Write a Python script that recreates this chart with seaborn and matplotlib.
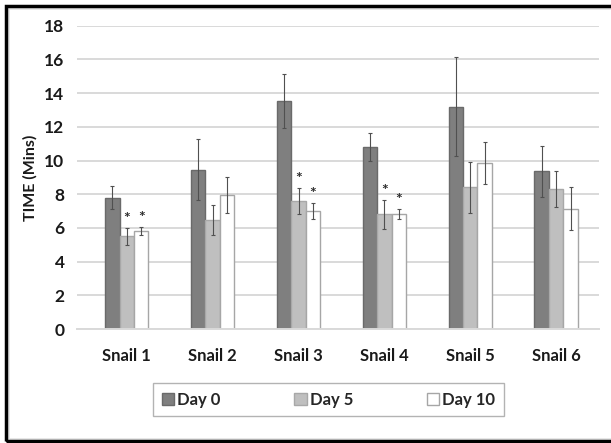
import numpy as np
import pandas as pd
import matplotlib
matplotlib.use("Agg")
import matplotlib.pyplot as plt
import seaborn as sns
from matplotlib.patches import Rectangle
from matplotlib.container import BarContainer

snails = ["Snail 1", "Snail 2", "Snail 3", "Snail 4", "Snail 5", "Snail 6"]
days = ["Day 0", "Day 5", "Day 10"]
day0 = [7.8, 9.45, 13.55, 10.8, 13.2, 9.35]
day5 = [5.5, 6.45, 7.6, 6.8, 8.4, 8.3]
day10 = [5.8, 7.95, 7.0, 6.8, 9.85, 7.15]
err0 = [0.7, 1.8, 1.6, 0.85, 2.95, 1.5]
err5 = [0.5, 0.9, 0.75, 0.85, 1.5, 1.05]
err10 = [0.25, 1.05, 0.5, 0.3, 1.25, 1.25]
sig5 = [True, False, True, True, False, False]
sig10 = [True, False, True, True, False, False]

sns.set_theme(style="white")
plt.rcParams['font.family'] = ['Lato', 'DejaVu Sans']

rows = []
for d, vals in zip(days, [day0, day5, day10]):
    for s, v in zip(snails, vals):
        rows.append({"Snail": s, "Day": d, "Time": v})
df = pd.DataFrame(rows)

W, H = 611, 443
fig = plt.figure(figsize=(W / 100, H / 100), dpi=100)
ax = fig.add_axes([77 / W, 1 - 329 / H, (599 - 77) / W, (329 - 25.7) / H])

fills = ["#7f7f7f", "#bfbfbf", "#ffffff"]
edges = ["#6a6a6a", "#a8a8a8", "#a6a6a6"]
sns.barplot(data=df, x="Snail", y="Time", hue="Day", order=snails, hue_order=days,
            palette=fills, width=0.505, gap=0, errorbar=None, saturation=1,
            linewidth=1.0, ax=ax, legend=True)

errs = [err0, err5, err10]
sigs = [None, sig5, sig10]
bar_conts = [c for c in ax.containers if isinstance(c, BarContainer)]
for i, cont in enumerate(bar_conts):
    for j, bar in enumerate(cont.patches):
        bar.set_edgecolor(edges[i])
        cx = bar.get_x() + bar.get_width() / 2
        h = bar.get_height()
        ax.errorbar(cx, h, yerr=errs[i][j], fmt="none", ecolor="#505050",
                    elinewidth=0.8, capsize=1.2, capthick=0.8, zorder=5)
        if sigs[i] is not None and sigs[i][j]:
            ax.text(cx, h + errs[i][j] + 0.12, "*", ha="center", va="bottom",
                    fontsize=11.5, fontweight="bold", color="#2a2a2a")

ax.set_ylim(0, 18)
ax.set_xlim(-0.58, 5.5)
ax.set_yticks(np.arange(0, 19, 2))
ax.yaxis.grid(True, color="#d9d9d9", linewidth=1.4)
ax.set_axisbelow(True)
for s in ["top", "right", "left"]:
    ax.spines[s].set_visible(False)
ax.spines["bottom"].set_color("#d9d9d9")
ax.spines["bottom"].set_linewidth(1.4)
ax.tick_params(axis="both", length=0)
ax.tick_params(axis="y", pad=9, labelsize=12.5)
ax.tick_params(axis="x", pad=14, labelsize=12)
for lab in ax.get_xticklabels() + ax.get_yticklabels():
    lab.set_fontweight("bold")
    lab.set_color("#1a1a1a")
ax.set_xlabel("")
ax.set_ylabel("TIME (Mins)", fontsize=11.5, fontweight="bold", color="#1a1a1a", labelpad=5)

leg = ax.legend(loc="center", bbox_to_anchor=(328.5 / W, 1 - 399.5 / H),
                bbox_transform=fig.transFigure, ncol=3, frameon=True,
                fancybox=False, edgecolor="#a0a0a0", handlelength=0.75,
                handleheight=0.75, handletextpad=0.2, columnspacing=4.4,
                borderpad=0.5, borderaxespad=0, prop={"size": 12, "weight": "bold"})
leg.get_frame().set_linewidth(1.0)
for i, hnd in enumerate(leg.legend_handles):
    hnd.set_edgecolor(edges[i])

# outer frame
fig.patches.append(Rectangle((9 / W, 4 / H), 1, 1 - 13 / H, transform=fig.transFigure,
                             fill=False, edgecolor="#e3e3e3", linewidth=1.2))
fig.patches.append(Rectangle((6 / W, 2 / H), 1, 1 - 8 / H, transform=fig.transFigure,
                             fill=False, edgecolor="black", linewidth=2.5))

fig.savefig("out.png", dpi=100)
